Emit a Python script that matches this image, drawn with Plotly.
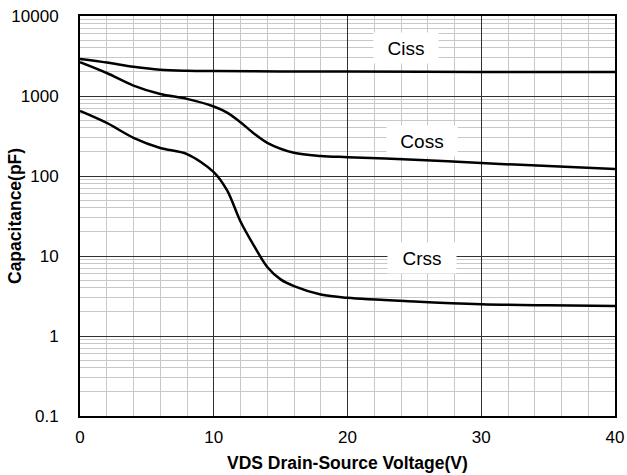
import math
import plotly.graph_objects as go

ciss_x = [0, 2, 4, 6, 8, 10, 15, 20, 30, 40]
ciss_y = [2900, 2620, 2320, 2130, 2070, 2050, 2030, 2020, 2000, 1990]

coss_x = [0, 2, 4, 6, 8, 10, 11, 12, 13, 14, 16, 18, 20, 25, 30, 35, 40]
coss_y = [2650, 1940, 1350, 1060, 920, 740, 620, 470, 340, 260, 195, 178, 172, 160, 145, 133, 122]

crss_x = [0, 2, 4, 6, 8, 10, 11, 12, 13, 14, 15, 16, 18, 20, 25, 30, 35, 40]
crss_y = [650, 460, 300, 224, 188, 112, 66, 27, 13.5, 7.3, 5.1, 4.2, 3.3, 3.0, 2.7, 2.5, 2.42, 2.37]

y_tickvals = [0.1, 1, 10, 100, 1000, 10000]
y_ticktext = ["0.1", "1", "10", "100", "1000", "10000"]
x_tickvals = [0, 10, 20, 30, 40]

labels = ["Ciss", "Coss", "Crss"]
label_x = [24.4, 25.6, 25.6]
label_y = [3980, 274, 9.4]
label_w = [56, 62, 60]

FAM = "Liberation Sans, Arial"

fig = go.Figure()
for xs, ys in [(ciss_x, ciss_y), (coss_x, coss_y), (crss_x, crss_y)]:
    fig.add_trace(go.Scatter(x=xs, y=ys, mode="lines",
                             line=dict(color="black", width=2.5, shape="spline", smoothing=0.9),
                             showlegend=False, hoverinfo="skip"))

for t, lx, ly, w in zip(labels, label_x, label_y, label_w):
    fig.add_annotation(x=lx, y=math.log10(ly), yref="y", xref="x", text=t, showarrow=False,
                       font=dict(family=FAM, size=19, color="black"),
                       bgcolor="white", borderpad=4, width=w, height=22)

fig.add_annotation(xref="paper", yref="paper", x=0, y=0.5, xshift=-65, textangle=-90,
                   text="<b>Capacitance(pF)</b>", showarrow=False,
                   font=dict(family=FAM, size=17.5, color="black"),
                   xanchor="center", yanchor="middle")
fig.add_annotation(xref="paper", yref="paper", x=0.5, y=0, yshift=-47,
                   text="<b>VDS Drain-Source Voltage(V)</b>", showarrow=False,
                   font=dict(family=FAM, size=17.5, color="black"),
                   xanchor="center", yanchor="middle")

font = dict(family=FAM, size=17, color="black")
fig.update_layout(
    width=627, height=475,
    margin=dict(l=80, r=12, t=16, b=59),
    paper_bgcolor="white", plot_bgcolor="white",
    font=font,
    xaxis=dict(range=[0, 40], tickvals=x_tickvals, ticks="", showline=True, linecolor="black",
               linewidth=2, mirror=True, gridcolor="#303030", gridwidth=1, zeroline=False,
               automargin=False, ticklabelstandoff=5,
               minor=dict(dtick=2, showgrid=True, gridcolor="#c8c8c8", gridwidth=1),
               tickfont=font),
    yaxis=dict(type="log", range=[-1, 4], tickvals=y_tickvals, ticktext=y_ticktext, ticks="",
               showline=True, linecolor="black", linewidth=2, mirror=True,
               gridcolor="#303030", gridwidth=1, zeroline=False,
               automargin=False, ticklabelstandoff=16,
               minor=dict(dtick="D1", showgrid=True, gridcolor="#c8c8c8", gridwidth=1),
               tickfont=font),
)
fig.write_html("out.html", config={"displayModeBar": False},
               post_script="document.body.style.margin='0';document.body.style.overflow='hidden';")
